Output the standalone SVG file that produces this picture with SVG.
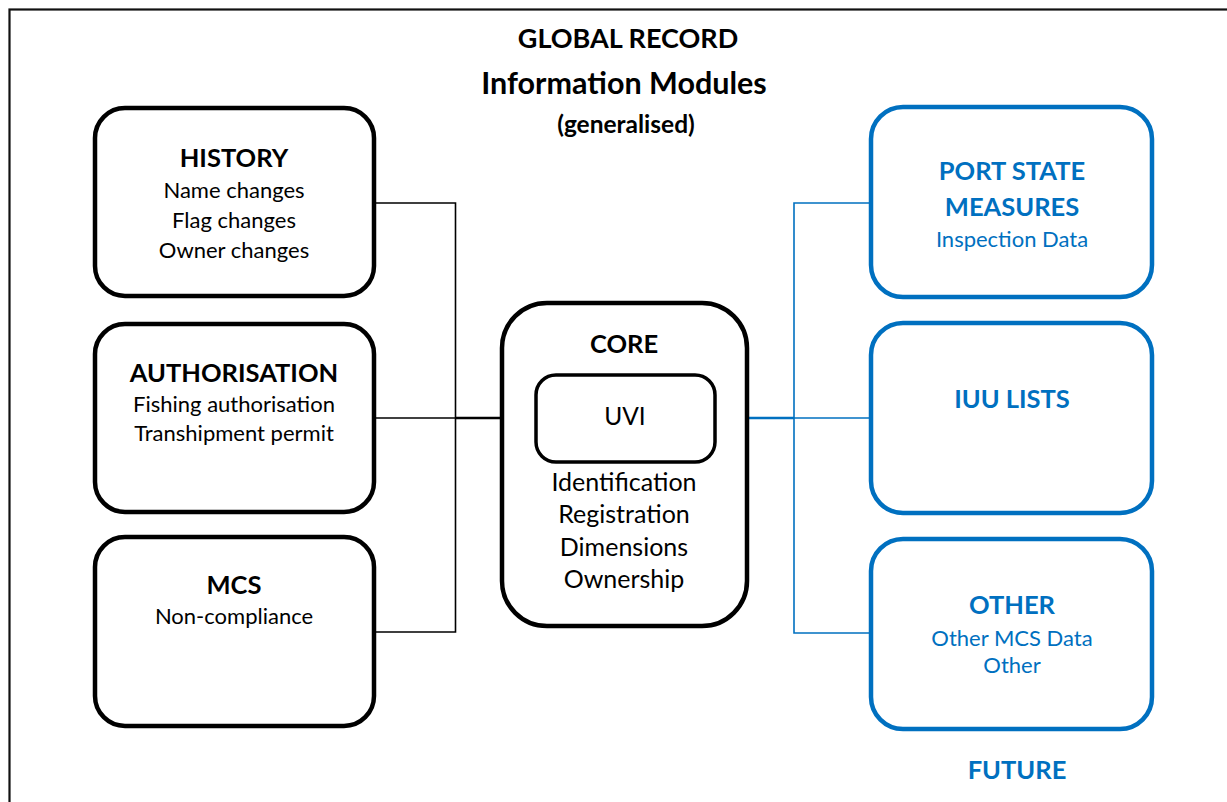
<svg xmlns="http://www.w3.org/2000/svg" width="1227" height="802" viewBox="0 0 1227 802">
<style>
  text { font-family: Lato, "Open Sans", "Liberation Sans", sans-serif; text-anchor: middle; }
  .t { font-weight: bold; font-size: 25.5px; }
  .s { font-size: 22px; }
  .c { font-size: 25px; }
  .k { fill: #000; }
  .b { fill: #0070C0; }
  .boxk { fill: #fff; stroke: #000; stroke-width: 4.5; }
  .boxb { fill: #fff; stroke: #0070C0; stroke-width: 4.5; }
  .ck { fill: none; stroke: #000; stroke-width: 1.6; }
  .cb { fill: none; stroke: #0070C0; stroke-width: 1.6; }
</style>
<rect x="0" y="0" width="1227" height="802" fill="#fff"/>
<rect id="frame" x="9.5" y="9.5" width="1240" height="820" fill="none" stroke="#111" stroke-width="2.2"/>
<g id="title">
  <text x="628" y="48" class="k" font-weight="bold" font-size="27">GLOBAL RECORD</text>
  <text x="624" y="94" class="k" font-weight="bold" font-size="30.5">Information Modules</text>
  <text x="626" y="133" class="k" font-weight="bold" font-size="24.5">(generalised)</text>
</g>
<g id="connectors">
  <polyline class="ck" points="374,203 455.5,203 455.5,632 374,632"/>
  <line class="ck" x1="374" y1="418" x2="455.5" y2="418"/>
  <line x1="455.5" y1="418" x2="536" y2="418" stroke="#000" stroke-width="2.6"/>
  <polyline class="cb" points="871,203 794,203 794,633 871,633"/>
  <line class="cb" x1="794" y1="418" x2="871" y2="418"/>
  <line x1="715" y1="418" x2="794" y2="418" stroke="#0070C0" stroke-width="2.6"/>
</g>
<g id="history">
  <rect class="boxk" x="95" y="108" width="279" height="188" rx="30"/>
  <text x="234" y="167" class="t k">HISTORY</text>
  <text x="234" y="198" class="s k">Name changes</text>
  <text x="234" y="228" class="s k">Flag changes</text>
  <text x="234" y="258" class="s k">Owner changes</text>
</g>
<g id="authorisation">
  <rect class="boxk" x="95" y="324" width="279" height="188" rx="30"/>
  <text x="234" y="382" class="t k">AUTHORISATION</text>
  <text x="234" y="412" class="s k">Fishing authorisation</text>
  <text x="234" y="441" class="s k">Transhipment permit</text>
</g>
<g id="mcs">
  <rect class="boxk" x="95" y="537" width="279" height="189" rx="30"/>
  <text x="234" y="594" class="t k">MCS</text>
  <text x="234" y="624" class="s k">Non-compliance</text>
</g>
<g id="core">
  <rect class="boxk" x="502" y="303" width="245" height="323" rx="45"/>
  <text x="624" y="353" class="t k">CORE</text>
  <text x="624" y="491" class="c k">Identification</text>
  <text x="624" y="523" class="c k">Registration</text>
  <text x="624" y="556" class="c k">Dimensions</text>
  <text x="624" y="588" class="c k">Ownership</text>
</g>
<g id="uvi">
  <rect x="536" y="375" width="179" height="87" rx="20" fill="#fff" stroke="#000" stroke-width="3.5"/>
  <text x="625" y="425" class="k" font-size="24.5">UVI</text>
</g>
<g id="port-state">
  <rect class="boxb" x="871" y="107" width="281" height="190" rx="32"/>
  <text x="1012" y="180" class="t b">PORT STATE</text>
  <text x="1012" y="216" class="t b">MEASURES</text>
  <text x="1012" y="247" class="s b">Inspection Data</text>
</g>
<g id="iuu">
  <rect class="boxb" x="871" y="323" width="281" height="190" rx="32"/>
  <text x="1012" y="408" class="t b">IUU LISTS</text>
</g>
<g id="other">
  <rect class="boxb" x="871" y="539" width="281" height="190" rx="32"/>
  <text x="1012" y="614" class="t b">OTHER</text>
  <text x="1012" y="646" class="s b">Other MCS Data</text>
  <text x="1012" y="673" class="s b">Other</text>
</g>
<text x="1017" y="779" class="t b">FUTURE</text>
</svg>
